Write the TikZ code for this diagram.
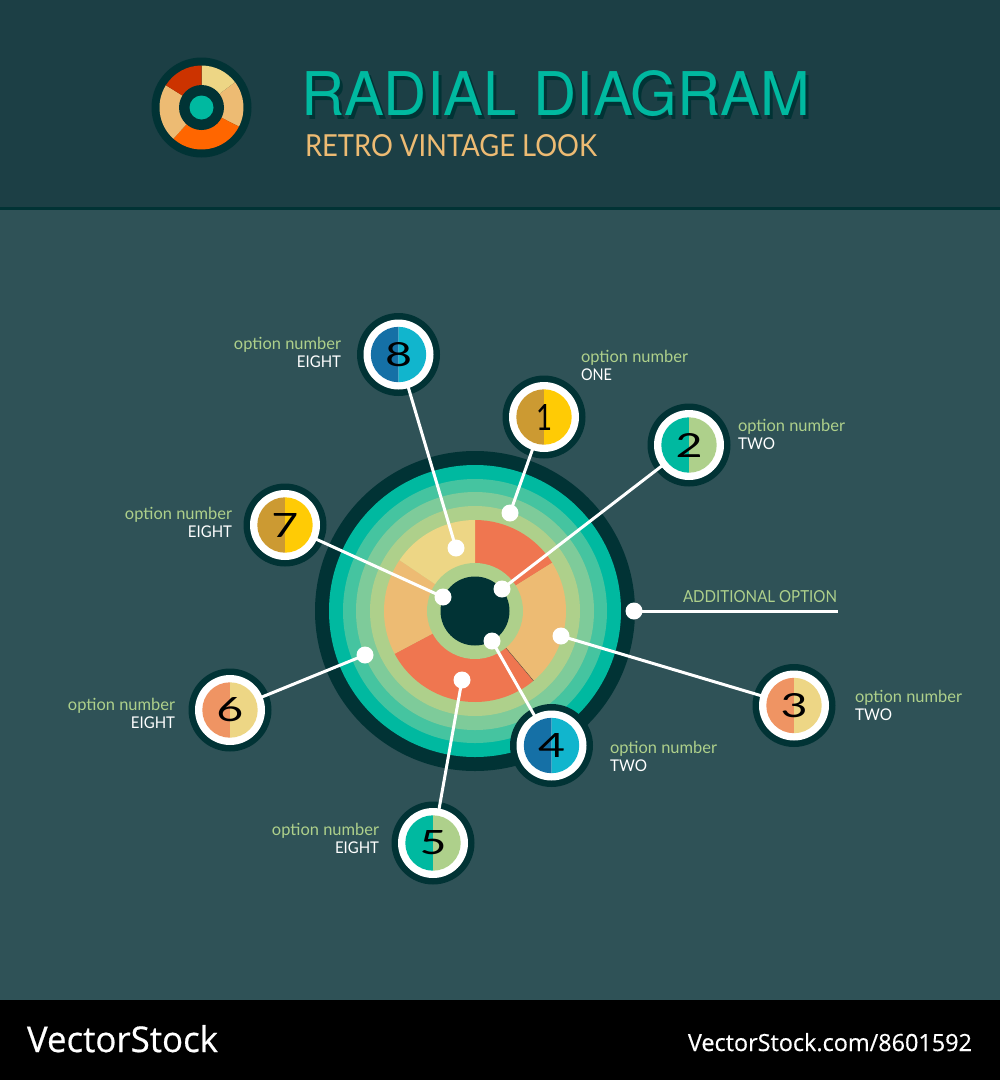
\documentclass[tikz,border=0pt]{standalone}
\usepackage{graphicx}
\usepackage{fontspec}
\setmainfont{TeX Gyre Heros}
\newfontfamily\lab{Lato}
\newfontfamily\foot[FakeBold=0.5]{Open Sans}
\definecolor{hdr}{HTML}{1C3F45}
\definecolor{bg}{HTML}{2F5257}
\definecolor{dark}{HTML}{013335}
\definecolor{teal}{HTML}{00B9A0}
\definecolor{ringb}{HTML}{45C4A0}
\definecolor{ringc}{HTML}{7ECB9A}
\definecolor{olive}{HTML}{AED08B}
\definecolor{red}{HTML}{EF7650}
\definecolor{peach}{HTML}{EDBB73}
\definecolor{yel}{HTML}{EDD685}
\definecolor{salmon}{HTML}{EF9463}
\definecolor{navy}{HTML}{1570A6}
\definecolor{cyan}{HTML}{11B5CD}
\definecolor{ochre}{HTML}{CC9A32}
\definecolor{gold}{HTML}{FFCB05}
\definecolor{lorange}{HTML}{FF6600}
\definecolor{lred}{HTML}{CC3300}
\pgfdeclarelayer{top}
\pgfsetlayers{main,top}
\tikzset{
  txt/.style={inner sep=0pt,outer sep=0pt},
  hub/.style={circle,fill=white,inner sep=0pt,minimum size=17pt},
  halo/.style={circle,fill=dark,inner sep=0pt,minimum size=83pt},
  conn/.style={draw=white,line width=3pt}
}
\newcommand{\sect}[5]{\fill[#1] (#2) -- +(#3:#5) arc[start angle=#3,end angle=#4,radius=#5] -- cycle;}
\newcommand{\badge}[8]{% name,x,y,left,right,digit,w,h
  \node[halo] (b#1) at (#2,#3) {};
  \begin{pgfonlayer}{top}
  \fill[white] (b#1.center) circle (35pt);
  \fill[#4] (b#1.center) +(90:27.7pt) arc[start angle=90,end angle=270,radius=27.7pt] -- cycle;
  \fill[#5] (b#1.center) +(-90:27.7pt) arc[start angle=-90,end angle=90,radius=27.7pt] -- cycle;
  \node[txt,text=black] (n#1) at (b#1.center) {\resizebox{#7pt}{#8pt}{\lab #6}};
  \end{pgfonlayer}
}
\newcommand{\optlabel}[6]{% name,anchor,x,y,w,text
  \node[txt,anchor=base #2,text=olive] (o#1) at (#3,#4+6.3) {\resizebox{107pt}{12.3pt}{\lab option number}};
  \node[txt,anchor=base #2,text=white] (t#1) at (#3,#4+24.3) {\resizebox{#5pt}{11.7pt}{\lab #6}};
}
\begin{document}
\begin{tikzpicture}[x=1pt,y=-1pt]
\useasboundingbox (0,0) rectangle (1000,1080);
\fill[bg] (0,0) rectangle (1000,1000);
\fill[hdr] (0,0) rectangle (1000,207);
\fill[dark] (0,207) rectangle (1000,210);
\fill[black] (0,1000) rectangle (1000,1080);
% logo
\coordinate (lg) at (201.5,107.5);
\fill[dark] (lg) circle (50pt);
\sect{yel}{lg}{37}{90}{42pt}
\sect{peach}{lg}{-27}{37}{42pt}
\sect{lorange}{lg}{228}{333}{42pt}
\sect{peach}{lg}{148}{228}{42pt}
\sect{lred}{lg}{90}{148}{42pt}
\fill[dark] (lg) circle (22.5pt);
\fill[teal] (lg) circle (12pt);
% title
\node[txt,anchor=base west,text=dark] (titleshadow) at (304,119) {\resizebox{509pt}{45pt}{RADIAL DIAGRAM}};
\node[txt,anchor=base west,text=teal] (title) at (301,115) {\resizebox{509pt}{45pt}{RADIAL DIAGRAM}};
\node[txt,anchor=base west,text=peach] (sub) at (305,156) {\resizebox{292pt}{22pt}{\lab RETRO VINTAGE LOOK}};
% rings
\coordinate (c) at (475,611);
\fill[dark] (c) circle (160pt);
\fill[teal] (c) circle (146pt);
\fill[ringb] (c) circle (132pt);
\fill[ringc] (c) circle (119pt);
\fill[olive] (c) circle (105pt);
\sect{red}{c}{32}{90}{91pt}
\sect{peach}{c}{-50}{32}{91pt}
\sect{red}{c}{208}{310}{91pt}
\sect{peach}{c}{146}{208}{91pt}
\sect{yel}{c}{90}{146}{91pt}
\draw[dark!70!red,line width=0.3pt] (c) -- +(-50:91pt);
\fill[olive] (c) circle (48pt);
\fill[dark] (c) circle (34.5pt);
\badge{1}{544}{417}{ochre}{gold}{1}{16}{26}
\badge{2}{689}{445}{teal}{olive}{2}{27}{24}
\badge{3}{794}{705.5}{salmon}{yel}{3}{27}{24}
\badge{4}{551.5}{745.5}{navy}{cyan}{4}{27}{24}
\badge{5}{433}{843}{teal}{olive}{5}{27}{24}
\badge{6}{230}{710}{salmon}{yel}{6}{27}{24}
\badge{7}{285}{525}{ochre}{gold}{7}{27}{24}
\badge{8}{398.5}{354.5}{navy}{cyan}{8}{27}{24}
\begin{pgfonlayer}{top}
\node[hub] (d1) at (510,513) {};
\node[hub] (d2) at (502,589) {};
\node[hub] (d3) at (561,636) {};
\node[hub] (d4) at (492,641) {};
\node[hub] (d5) at (462,680) {};
\node[hub] (d6) at (365,655) {};
\node[hub] (d7) at (443,597) {};
\node[hub] (d8) at (456,548) {};
\node[hub] (d9) at (634,611) {};
\end{pgfonlayer}
\coordinate (addend) at (838,611);
\foreach \i in {1,...,8} {\draw[conn] (d\i.center) -- (b\i.center);}
\draw[conn] (d9.center) -- (addend);
% labels
\optlabel{1}{west}{581}{356}{31}{ONE}
\optlabel{2}{west}{738}{425}{37}{TWO}
\optlabel{3}{west}{855}{696}{37}{TWO}
\optlabel{4}{west}{610}{747}{37}{TWO}
\optlabel{5}{east}{379}{829}{44}{EIGHT}
\optlabel{6}{east}{175}{704}{44}{EIGHT}
\optlabel{7}{east}{232}{513}{44}{EIGHT}
\optlabel{8}{east}{341}{343}{44}{EIGHT}
\node[txt,anchor=base west,text=olive] (addl) at (683,602) {\resizebox{154pt}{12pt}{\lab ADDITIONAL OPTION}};
% footer
\node[txt,anchor=base west,text=white] (vs) at (27,1052) {\resizebox{191pt}{27pt}{\foot VectorStock}};
\node[txt,anchor=base east,text=white] (vsurl) at (972,1051) {\resizebox{284pt}{18pt}{\foot VectorStock.com/8601592}};
\end{tikzpicture}
\end{document}
